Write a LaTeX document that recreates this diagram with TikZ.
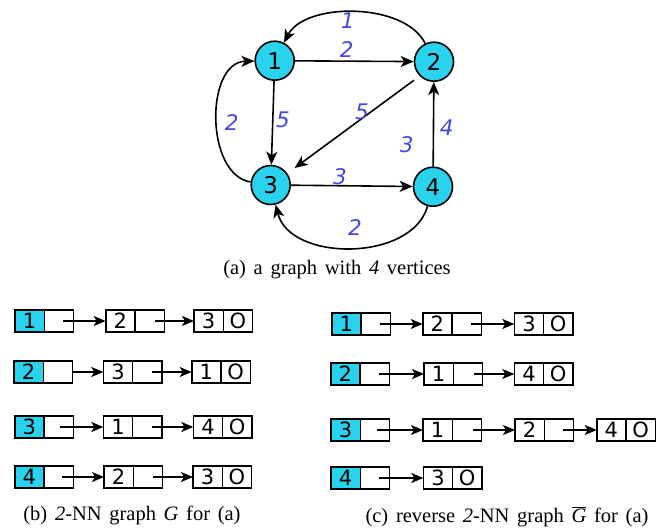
\documentclass[tikz,border=0pt]{standalone}
\usepackage{fontspec}
\setmainfont{Liberation Serif}[WordSpace=1.5]
\setsansfont{DejaVu Sans}
\usetikzlibrary{arrows.meta}
\definecolor{vcyan}{RGB}{41,211,238}
\definecolor{wblue}{RGB}{70,70,225}
\newcommand\lpair[5]{\node[#5,anchor=west] (#1n) at (#2,#3) {#4}; \node[cell,anchor=west] (#1p) at (#1n.east) {};}
\newcommand\lend[4]{\node[cell,anchor=west] (#1n) at (#2,#3) {#4}; \node[cell,anchor=west] (#1p) at (#1n.east) {O};}
\begin{document}
\begin{tikzpicture}[x=1pt,y=-1pt,
 vtx/.style={circle,draw,line width=1.6pt,fill=vcyan,minimum size=39pt,inner sep=0pt,font=\sffamily\fontsize{23}{23}\selectfont},
 wlab/.style={text=wblue,font=\sffamily\itshape\fontsize{21.5}{21.5}\selectfont,inner sep=0pt},
 edge/.style={-{Stealth[length=13pt,width=11pt,inset=3.5pt]},line width=1.6pt},
 cell/.style={draw,line width=1.6pt,minimum width=29.3pt,minimum height=21.5pt,inner sep=0pt,outer sep=0pt,font=\sffamily\fontsize{21}{21}\selectfont},
 hcell/.style={cell,fill=vcyan},
 larr/.style={-{Stealth[length=12pt,width=10pt,inset=3pt]},line width=1.5pt},
 captxt/.style={font=\fontsize{20.5}{20.5}\selectfont,inner sep=0pt}]
\useasboundingbox (0,0) rectangle (669,529);
% graph
\node[vtx] (n1) at (274.7,60.7) {1};
\node[vtx] (n2) at (434,61.7) {2};
\node[vtx] (n3) at (270.7,185) {3};
\node[vtx] (n4) at (433,186.7) {4};
\draw[edge] (n2) .. controls (405,2) and (305,2) .. (n1);
\draw[edge] (n1) -- (n2);
\draw[edge] (n1) -- (n3);
\draw[edge,shorten <=7pt,shorten >=9pt] (n2.225) -- (n3.35);
\draw[edge] (n4) -- (n2);
\draw[edge] (n3) -- (n4);
\draw[edge] (n3) .. controls (205,175) and (205,62) .. (n1);
\draw[edge] (n4) .. controls (412,262) and (290,262) .. (n3);
\node[wlab] (w21) at (347.7,20.7) {1};
\node[wlab] (w12) at (346.7,50) {2};
\node[wlab] (w13) at (283,120) {5};
\node[wlab] (w23) at (362,111.7) {5};
\node[wlab] (w42) at (446.7,128) {4};
\node[wlab] (wx) at (406.7,145) {3};
\node[wlab] (w34) at (340,176.7) {3};
\node[wlab] (w31) at (231.7,123) {2};
\node[wlab] (w43) at (355,228) {2};
\node[captxt] (capa) at (337,270) {(a) a graph with \textit{4} vertices};
% (b)
\lpair{b1a}{15}{321}{1}{hcell} \lpair{b1b}{105.7}{321}{2}{cell} \lend{b1c}{194}{321}{3}
\lpair{b2a}{14}{372}{2}{hcell} \lpair{b2b}{103.3}{372}{3}{cell} \lend{b2c}{191.7}{372}{1}
\lpair{b3a}{14.7}{427}{3}{hcell} \lpair{b3b}{103.3}{427}{1}{cell} \lend{b3c}{193.3}{427}{4}
\lpair{b4a}{14.7}{477}{4}{hcell} \lpair{b4b}{104}{477}{2}{cell} \lend{b4c}{193}{477}{3}
\draw[larr] ([xshift=4pt]b1ap.center) -- (b1bn.west);
\draw[larr] ([xshift=5pt]b1bp.center) -- (b1cn.west);
\draw[larr] (b2ap.east) -- (b2bn.west);
\draw[larr] ([xshift=5pt]b2bp.center) -- (b2cn.west);
\draw[larr] ([xshift=1pt]b3ap.center) -- (b3bn.west);
\draw[larr] ([xshift=5pt]b3bp.center) -- (b3cn.west);
\draw[larr] ([xshift=3pt]b4ap.center) -- (b4bn.west);
\draw[larr] ([xshift=5pt]b4bp.center) -- (b4cn.west);
\node[captxt] (capb) at (132,515) {(b) \textit{2}-NN graph \textit{G} for (a)};
% (c)
\lpair{c1a}{331.7}{324}{1}{hcell} \lpair{c1b}{422.7}{324}{2}{cell} \lend{c1c}{514.3}{324}{3}
\lpair{c2a}{330.7}{374}{2}{hcell} \lpair{c2b}{424}{374}{1}{cell} \lend{c2c}{514.3}{374}{4}
\lpair{c3a}{331}{430}{3}{hcell} \lpair{c3b}{423}{430}{1}{cell} \lpair{c3c}{515}{430}{2}{cell} \lend{c3d}{596.7}{430}{4}
\lpair{c4a}{331}{478}{4}{hcell} \lend{c4b}{423.3}{478}{3}
\draw[larr] ([xshift=4pt]c1ap.center) -- (c1bn.west);
\draw[larr] ([xshift=4pt]c1bp.center) -- (c1cn.west);
\draw[larr] ([xshift=4pt]c2ap.center) -- (c2bn.west);
\draw[larr] ([xshift=6pt]c2bp.center) -- (c2cn.west);
\draw[larr] ([xshift=2pt]c3ap.center) -- (c3bn.west);
\draw[larr] ([xshift=6pt]c3bp.center) -- (c3cn.west);
\draw[larr] ([xshift=4pt]c3cp.center) -- (c3dn.west);
\draw[larr] ([xshift=4pt]c4ap.center) -- (c4bn.west);
\node[captxt] (capc) at (507,517) {(c) reverse \textit{2}-NN graph $\overline{\mbox{\textit{G}}}$ for (a)};
\end{tikzpicture}
\end{document}
